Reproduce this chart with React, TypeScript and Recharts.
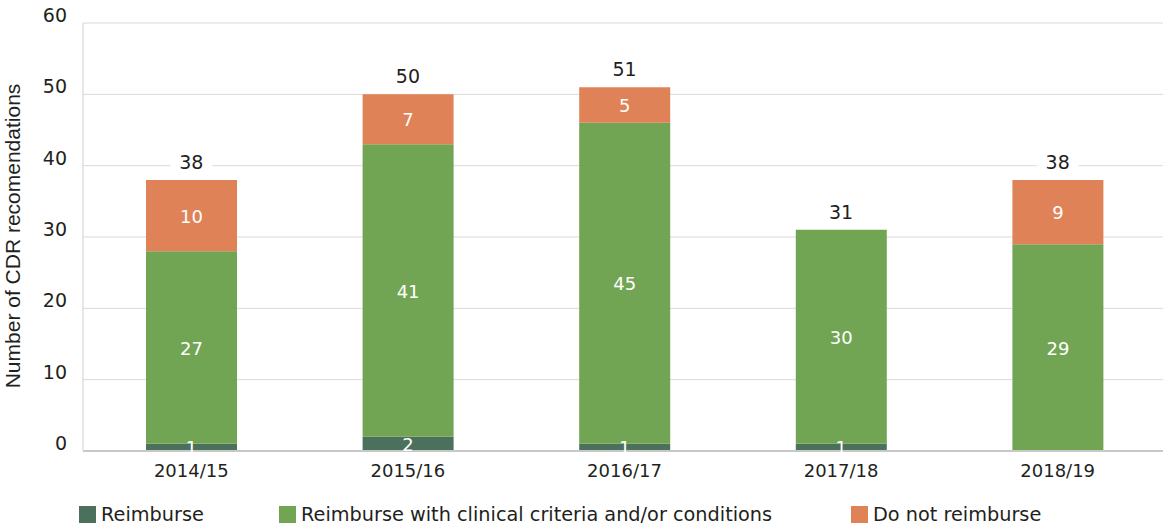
import React from 'react';
import { ComposedChart, Bar, Line, XAxis, YAxis, CartesianGrid, LabelList } from 'recharts';

const years = ['2014/15', '2015/16', '2016/17', '2017/18', '2018/19'];
const reimburse = [1, 2, 1, 1, 0];
const withCriteria = [27, 41, 45, 30, 29];
const doNot = [10, 7, 5, 0, 9];
const totals = [38, 50, 51, 31, 38];
const yTicks = [0, 10, 20, 30, 40, 50, 60];

const seriesNames = ['Reimburse', 'Reimburse with clinical criteria and/or conditions', 'Do not reimburse'];
const colors = ['#4b715c', '#72a553', '#e08257'];

const data = years.map((y, i) => ({
  year: y,
  reimburse: reimburse[i],
  withCriteria: withCriteria[i],
  doNot: doNot[i],
  total: totals[i],
}));

const font = "'DejaVu Sans', sans-serif";

const innerLabel = (props: any) => {
  const { x, y, width, height, value } = props;
  if (!value) return null;
  return (
    <text x={x + width / 2} y={y + height / 2} dy={7} textAnchor="middle" fill="#fff" fontSize={18} fontFamily={font}>
      {value}
    </text>
  );
};

const totalLabel = (props: any) => {
  const { x, y, value } = props;
  const w = String(value).length * 13 + 16;
  return (
    <g>
      <rect x={x - w / 2} y={y - 31} width={w} height={23} fill="#fff" />
      <text x={x} y={y - 11} textAnchor="middle" fill="#231f20" fontSize={19} fontFamily={font}>
        {value}
      </text>
    </g>
  );
};

const yTick = (props: any) => {
  const { x, y, payload } = props;
  return (
    <text x={x - 8} y={y - 1} textAnchor="end" fill="#231f20" fontSize={19} fontFamily={font}>
      {payload.value}
    </text>
  );
};

const xTick = (props: any) => {
  const { x, y, payload } = props;
  return (
    <text x={x} y={y + 18} textAnchor="middle" fill="#231f20" fontSize={18} fontFamily={font}>
      {payload.value}
    </text>
  );
};

const legendX = [79, 279, 851];

export default function App() {
  return (
    <div style={{ position: 'absolute', left: 0, top: 0, width: 1163, height: 529, overflow: 'hidden', background: '#fff' }}>
      <ComposedChart width={1166} height={529} data={data} margin={{ top: 23, right: 0, bottom: 0, left: 0 }}>
        <CartesianGrid stroke="#d9d9d9" vertical={false} />
        <XAxis dataKey="year" height={78} tick={xTick} tickLine={false} axisLine={{ stroke: '#c8c8c8', strokeWidth: 2 }} />
        <YAxis width={83} domain={[0, 60]} ticks={yTicks} tick={yTick} tickLine={false} axisLine={{ stroke: '#d0d0d0' }} />
        <Bar dataKey="reimburse" stackId="a" fill={colors[0]} barSize={91} isAnimationActive={false}>
          <LabelList dataKey="reimburse" content={innerLabel} />
        </Bar>
        <Bar dataKey="withCriteria" stackId="a" fill={colors[1]} barSize={91} isAnimationActive={false}>
          <LabelList dataKey="withCriteria" content={innerLabel} />
        </Bar>
        <Bar dataKey="doNot" stackId="a" fill={colors[2]} barSize={91} isAnimationActive={false}>
          <LabelList dataKey="doNot" content={innerLabel} />
        </Bar>
        <Line dataKey="total" stroke="none" dot={false} activeDot={false} isAnimationActive={false}>
          <LabelList dataKey="total" content={totalLabel} />
        </Line>
      </ComposedChart>
      <svg width={40} height={529} style={{ position: 'absolute', left: 0, top: 0 }}>
        <text
          x={0}
          y={0}
          transform="translate(20, 236) rotate(-90)"
          textAnchor="middle"
          fontFamily="'Liberation Sans', Arial, sans-serif"
          fontSize={21}
          fill="#231f20"
        >
          Number of CDR recomendations
        </text>
      </svg>
      {seriesNames.map((name, i) => (
        <div key={name} style={{ position: 'absolute', left: legendX[i], top: 503, display: 'flex', alignItems: 'center', fontFamily: font, fontSize: 19.3, color: '#231f20' }}>
          <span style={{ display: 'inline-block', width: 17, height: 17, background: colors[i], marginRight: 5 }} />
          <span>{name}</span>
        </div>
      ))}
    </div>
  );
}
